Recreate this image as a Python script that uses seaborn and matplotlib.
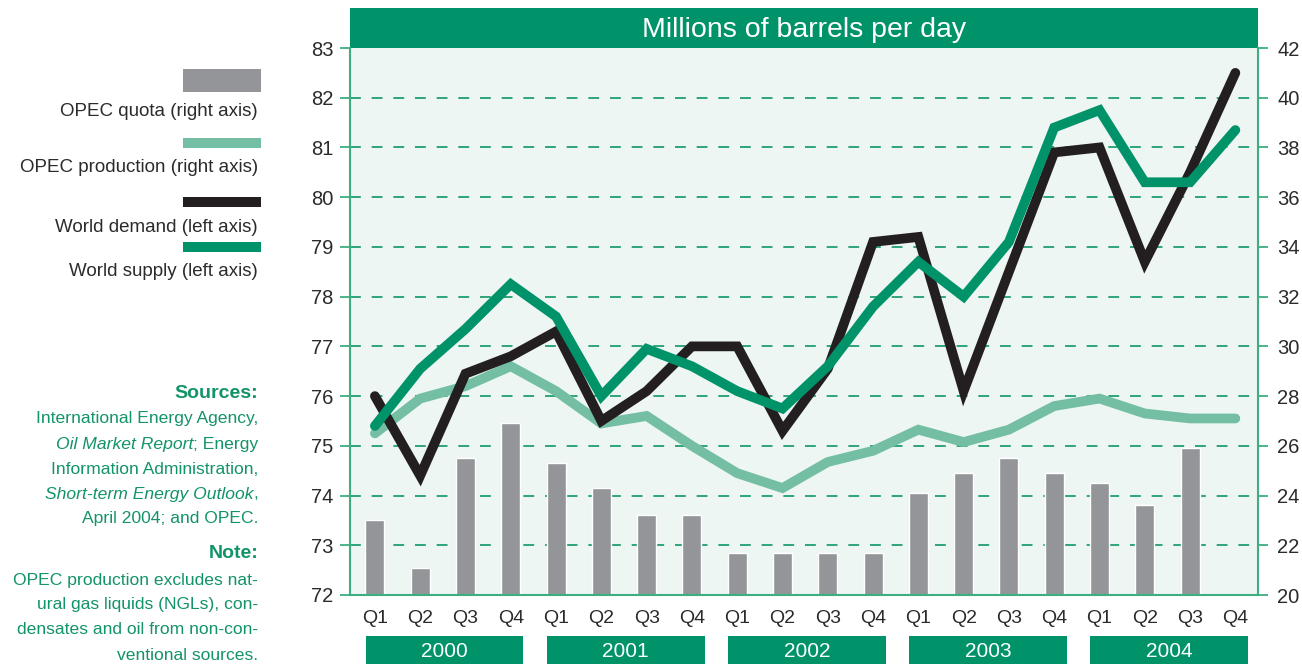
import numpy as np
import pandas as pd
import matplotlib
matplotlib.use("Agg")
import matplotlib.pyplot as plt
import matplotlib.transforms as mtransforms
from matplotlib import font_manager
from matplotlib.patches import Rectangle
import seaborn as sns

# data
years = ["2000", "2001", "2002", "2003", "2004"]
quarters = ["Q1", "Q2", "Q3", "Q4"]

opec_quota = [23.0, 21.1, 25.5, 26.9, 25.3, 24.3, 23.2, 23.2, 21.7, 21.7,
              21.7, 21.7, 24.1, 24.9, 25.5, 24.9, 24.5, 23.6, 25.9, np.nan]
opec_production = [26.5, 27.9, 28.4, 29.2, 28.2, 26.9, 27.2, 26.0, 24.9, 24.3,
                   25.35, 25.8, 26.65, 26.15, 26.65, 27.6, 27.9, 27.3, 27.1, 27.1]
world_demand = [76.0, 74.4, 76.45, 76.8, 77.3, 75.5, 76.1, 77.0, 77.0, 75.3,
                76.55, 79.1, 79.2, 76.1, 78.5, 80.9, 81.0, 78.7, 80.5, 82.5]
world_supply = [75.4, 76.55, 77.35, 78.25, 77.6, 76.0, 76.95, 76.6, 76.1, 75.75,
                76.6, 77.8, 78.7, 78.0, 79.1, 81.4, 81.75, 80.3, 80.3, 81.35]

left_ticks = list(range(72, 84))
right_ticks = list(range(20, 43, 2))

legend_labels = ["OPEC quota (right axis)", "OPEC production (right axis)",
                 "World demand (left axis)", "World supply (left axis)"]

GREEN = "#00936a"
LIGHT = "#74bea4"
BLACK = "#231f20"
GRAY = "#939598"
BG = "#edf6f2"
SPINE = "#3dae80"
GRID = "#1f9f6f"
TXT = "#2b2b2b"
NOTE = "#12936a"

sns.set_theme(style="white")
names = {f.name for f in font_manager.fontManager.ttflist}
NARROW = "Liberation Sans Narrow" if "Liberation Sans Narrow" in names else "Liberation Sans"
plt.rcParams["font.family"] = ["Liberation Sans", "DejaVu Sans"]

df = pd.DataFrame({
    "t": np.arange(len(world_demand)),
    "quota": opec_quota,
    "production": opec_production,
    "demand": world_demand,
    "supply": world_supply,
})

W, H = 1302, 664
fig = plt.figure(figsize=(W / 100, H / 100), dpi=100)
fig.patch.set_facecolor("white")


def fx(px):
    return px / W


def fy(py):
    return 1 - py / H


L, R, T, B = 350, 1258, 48, 595
ax1 = fig.add_axes([fx(L), fy(B), (R - L) / W, (B - T) / H])
ax2 = ax1.twinx()
ax1.set_zorder(2)
ax2.set_zorder(1)
ax1.patch.set_visible(False)
ax2.patch.set_visible(True)
ax2.set_facecolor(BG)

LW = 7
# right axis: quota bars + OPEC production
sns.barplot(data=df, x="t", y="quota", ax=ax2, native_scale=True, width=0.42,
            color=GRAY, saturation=1, errorbar=None, zorder=2)
sns.lineplot(data=df, x="t", y="production", ax=ax2, color=LIGHT, linewidth=LW,
             solid_capstyle="round", solid_joinstyle="miter", zorder=3)

# left axis: world demand and supply
sns.lineplot(data=df, x="t", y="demand", ax=ax1, color=BLACK, linewidth=LW,
             solid_capstyle="round", solid_joinstyle="miter", zorder=3)
sns.lineplot(data=df, x="t", y="supply", ax=ax1, color=GREEN, linewidth=LW,
             solid_capstyle="round", solid_joinstyle="miter", zorder=4)

ax1.set_xlim(-0.55, 19.5)
ax1.set_ylim(72, 83)
ax2.set_ylim(20, 42)
for ax in (ax1, ax2):
    ax.set_xlabel("")
    ax.set_ylabel("")

ax1.set_yticks(left_ticks)
ax2.set_yticks(right_ticks)
ax2.set_axisbelow(True)
ax2.grid(axis="y", color=GRID, linewidth=1.3, linestyle=(0, (6, 6)))
ax2.grid(axis="x", visible=False)
ax1.grid(False)
glines = ax2.get_ygridlines()
glines[0].set_visible(False)
glines[-1].set_visible(False)

ax1.set_xticks(df["t"])
ax1.set_xticklabels(quarters * len(years))
ax1.set_xticks(np.arange(0.5, len(df) - 1, 1), minor=True)
ax1.tick_params(axis="x", which="major", length=0, pad=11, labelsize=14,
                labelcolor=TXT, labelfontfamily=NARROW)
ax1.tick_params(axis="x", which="minor", length=8.5, width=1.3, color=SPINE,
                direction="out")
ax1.tick_params(axis="y", length=7, width=1.3, color=SPINE, pad=5,
                labelsize=14.5, labelcolor=TXT, labelfontfamily=NARROW)
ax2.tick_params(axis="y", length=7, width=1.3, color=SPINE, pad=7,
                labelsize=14.5, labelcolor=TXT, labelfontfamily=NARROW)

for ax in (ax1, ax2):
    for s in ax.spines.values():
        s.set_visible(False)
for side in ("left", "bottom", "right"):
    ax1.spines[side].set_visible(True)
    ax1.spines[side].set_color(SPINE)
    ax1.spines[side].set_linewidth(1.5)

# header band
hax = fig.add_axes([fx(L), fy(T), (R - L) / W, (T - 8) / H])
hax.set_facecolor(GREEN)
hax.set_xticks([])
hax.set_yticks([])
for s in hax.spines.values():
    s.set_visible(False)
hax.text(0.5, 0.45, "Millions of barrels per day", color="white", fontsize=20.5,
         ha="center", va="center", transform=hax.transAxes)

# year boxes under the quarter labels
trans = mtransforms.blended_transform_factory(ax1.transData, ax1.transAxes)
for k, yr in enumerate(years):
    x0 = k * len(quarters) - 0.2
    ax1.add_patch(Rectangle((x0, -0.14), 3.48, 0.065, transform=trans,
                            facecolor=GREEN, edgecolor="none", clip_on=False))
    ax1.text(x0 + 1.74, -0.103, yr, transform=trans, ha="center", va="center",
             color="white", fontsize=15)

# legend on the left
legend_colors = [GRAY, LIGHT, BLACK, GREEN]
legend_boxes = [(69, 23), (138, 10), (197, 10), (242, 10)]
legend_text_y = [111, 168, 227, 271]
for col, (top, hgt), lab, ty in zip(legend_colors, legend_boxes, legend_labels, legend_text_y):
    fig.add_artist(Rectangle((fx(183), fy(top + hgt)), 78 / W, hgt / H,
                             transform=fig.transFigure, facecolor=col,
                             edgecolor="none"))
    fig.text(fx(258), fy(ty), lab, ha="right", va="center", fontsize=13.5,
             color=TXT)

# sources and note
renderer = fig.canvas.get_renderer()


def rich_line(y, parts, size=12.6, **kw):
    x_right = 258
    for text, style in reversed(parts):
        t = fig.text(fx(x_right), fy(y), text, ha="right", va="center",
                     style=style, fontsize=size, color=NOTE, **kw)
        x_right -= t.get_window_extent(renderer).width


rich_line(393, [("Sources:", "normal")], size=14, fontweight="bold", )
rich_line(419, [("International Energy Agency,", "normal")])
rich_line(444, [("Oil Market Report", "italic"), ("; Energy", "normal")])
rich_line(469, [("Information Administration,", "normal")])
rich_line(494, [("Short-term Energy Outlook", "italic"), (",", "normal")])
rich_line(519, [("April 2004; and OPEC.", "normal")])
rich_line(553, [("Note:", "normal")], size=14, fontweight="bold")
rich_line(580, [("OPEC production excludes nat-", "normal")])
rich_line(605, [("ural gas liquids (NGLs), con-", "normal")])
rich_line(630, [("densates and oil from non-con-", "normal")])
rich_line(655, [("ventional sources.", "normal")])

fig.savefig("out.png", dpi=100, facecolor="white")
